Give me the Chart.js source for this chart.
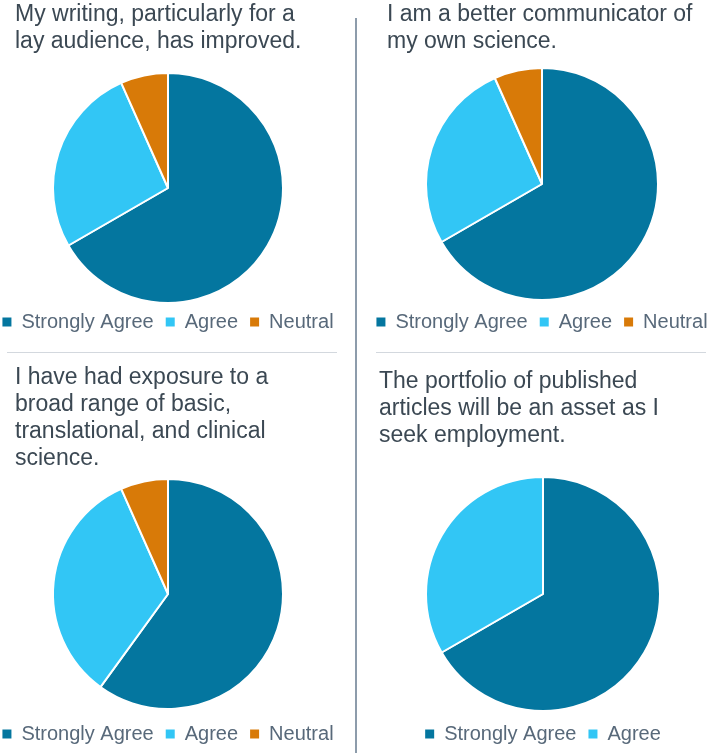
<!DOCTYPE html>
<html>
<head>
<meta charset="utf-8">
<script src="https://cdn.jsdelivr.net/npm/chart.js@4.4.1/dist/chart.umd.min.js"></script>
<style>
  html, body { margin: 0; padding: 0; background: #fff; }
  #wrap { position: relative; width: 711px; height: 753px; overflow: hidden; }
  #wrap canvas { position: absolute; }
  .vline { position: absolute; left: 355px; top: 18px; width: 2px; height: 735px; background: #8d9cab; }
  .hline { position: absolute; top: 352px; height: 1px; background: #d3d8de; }
</style>
</head>
<body>
<div id="wrap">
  <canvas id="c1" width="400" height="352" style="left:-32px;top:0"></canvas>
  <canvas id="c2" width="400" height="352" style="left:342px;top:0"></canvas>
  <canvas id="c3" width="400" height="410" style="left:-32px;top:352px"></canvas>
  <canvas id="c4" width="400" height="410" style="left:343px;top:352px"></canvas>
  <div class="vline"></div>
  <div class="hline" style="left:7px;width:330px"></div>
  <div class="hline" style="left:376px;width:330px"></div>
</div>
<script>
// categories
const answers3 = ['Strongly Agree', 'Agree', 'Neutral'];
const answers2 = ['Strongly Agree', 'Agree'];

// survey counts
const writingVals = [10, 4, 1];
const communicatorVals = [10, 4, 1];
const exposureVals = [9, 5, 1];
const portfolioVals = [10, 5];

// question titles, split as in the picture
const writingTitle = ['My writing, particularly for a', 'lay audience, has improved.'];
const communicatorTitle = ['I am a better communicator of', 'my own science.'];
const exposureTitle = ['I have had exposure to a', 'broad range of basic,', 'translational, and clinical', 'science.'];
const portfolioTitle = ['The portfolio of published', 'articles will be an asset as I', 'seek employment.'];

const COLORS = ['#04769f', '#32c6f5', '#d87a08'];
const FONT = "'Liberation Sans', Arial, sans-serif";

// title sits left of the centred pie/legend column, so move it after layout
const titleShift = {
  id: 'titleShift',
  afterLayout(chart, args, opts) {
    const tb = chart.titleBlock;
    if (!tb || opts.x == null) return;
    const w = tb.right - tb.left;
    tb.left = opts.x;
    tb.right = opts.x + w;
  },
};

function legendLabels(chart) {
  const gen = (Chart.overrides.doughnut && Chart.overrides.doughnut.plugins.legend.labels.generateLabels)
    || Chart.defaults.plugins.legend.labels.generateLabels;
  return gen(chart).map((l) => ({ ...l, lineWidth: 0, strokeStyle: l.fillStyle }));
}

function makePie(id, title, labels, values, cfg) {
  return new Chart(document.getElementById(id), {
    type: 'pie',
    plugins: [titleShift],
    data: {
      labels: labels,
      datasets: [{
        data: values,
        backgroundColor: COLORS.slice(0, values.length),
        borderColor: '#ffffff',
        borderWidth: 2,
        radius: cfg.r,
        clip: false,
      }],
    },
    options: {
      responsive: false,
      devicePixelRatio: 1,
      animation: false,
      events: [],
      layout: { padding: { left: 0, right: 0, top: 0, bottom: cfg.padB } },
      plugins: {
        titleShift: { x: cfg.titleX },
        tooltip: { enabled: false },
        title: {
          display: true,
          text: title,
          align: 'start',
          color: '#3b4853',
          font: { family: FONT, size: 23, weight: 'normal', lineHeight: 1.174 },
          padding: { top: cfg.tTop, bottom: cfg.tBottom },
        },
        legend: {
          position: 'bottom',
          labels: {
            color: '#58697a',
            font: { family: FONT, size: 20 },
            boxWidth: 9,
            boxHeight: 9,
            padding: 12,
            generateLabels: legendLabels,
          },
        },
      },
    },
  });
}

makePie('c1', writingTitle, answers3, writingVals,
  { titleX: 47, tTop: 1.5, tBottom: 20.5, padB: 10, r: 115 });
makePie('c2', communicatorTitle, answers3, communicatorVals,
  { titleX: 45, tTop: 1.5, tBottom: 12.5, padB: 10, r: 116 });
makePie('c3', exposureTitle, answers3, exposureVals,
  { titleX: 47, tTop: 12.5, tBottom: 3.5, padB: 8, r: 115 });
makePie('c4', portfolioTitle, answers2, portfolioVals,
  { titleX: 36, tTop: 16.5, tBottom: 26.5, padB: 8, r: 117 });
</script>
</body>
</html>
